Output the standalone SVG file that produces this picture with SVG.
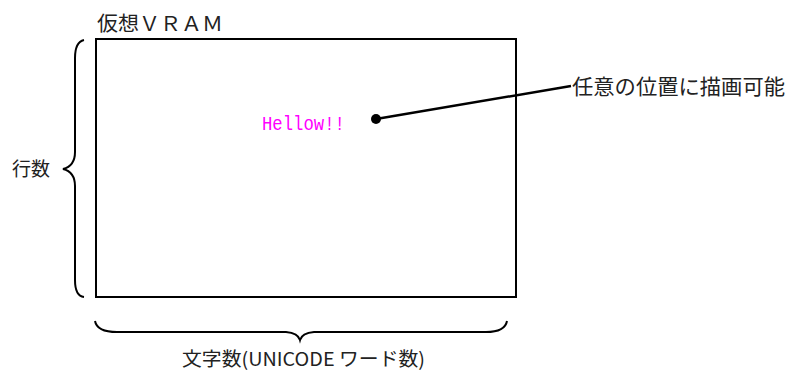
<svg xmlns="http://www.w3.org/2000/svg" width="786" height="372" viewBox="0 0 786 372">
<style>
.jp{font-family:"Noto Sans CJK JP","Noto Sans",sans-serif;fill:#222;}
.ln{fill:none;stroke:#000;stroke-width:2;}
</style>
<rect width="786" height="372" fill="#fff"/>
<g id="vram">
<rect class="ln" x="96" y="39" width="420" height="258"/>
<text class="jp" x="97" y="31" font-size="20" textLength="126" lengthAdjust="spacingAndGlyphs">仮想ＶＲＡＭ</text>
</g>
<g id="hello">
<text x="262" y="130" font-family="Liberation Mono, monospace" font-size="21" fill="#ff00ff" textLength="83" lengthAdjust="spacingAndGlyphs">Hellow!!</text>
</g>
<g id="rows">
<path class="ln" d="M84,40 Q75,42 75,58 L75,152 Q75,166 63,169 Q75,172 75,186 L75,280 Q75,296 84,297"/>
<text class="jp" x="12" y="176" font-size="19">行数</text>
</g>
<g id="cols">
<path class="ln" d="M95,321 Q97,332 117,332 L286,332 Q298,333 300,340 Q302,333 314,332 L486,332 Q505,332 507,321"/>
<text class="jp" x="182" y="366" font-size="19" textLength="243" lengthAdjust="spacingAndGlyphs">文字数(UNICODE ワード数)</text>
</g>
<g id="note">
<text class="jp" x="572" y="94" font-size="21" textLength="213" lengthAdjust="spacingAndGlyphs">任意の位置に描画可能</text>
</g>
<g id="connectors">
<line x1="376" y1="119" x2="571" y2="86" stroke="#000" stroke-width="2.5"/>
<circle cx="376" cy="119" r="5" fill="#000"/>
</g>
</svg>
